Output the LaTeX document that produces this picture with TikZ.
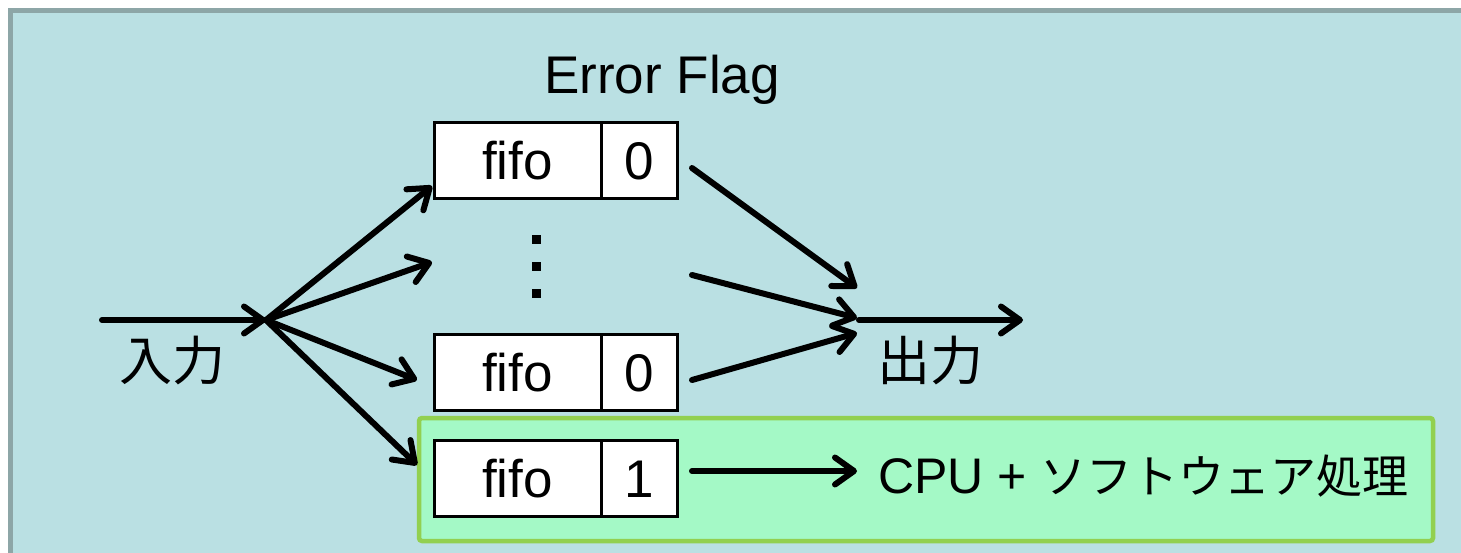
\documentclass[tikz,border=0pt]{standalone}
\usepackage{fontspec}
\setmainfont{Liberation Sans}
\newfontfamily\jp{Noto Sans CJK JP}
\usetikzlibrary{arrows.meta}

\definecolor{panelbg}{HTML}{BAE0E3}
\definecolor{panelrim}{HTML}{8DA6A7}
\definecolor{swfill}{HTML}{A4F9C6}
\definecolor{swrim}{HTML}{92D050}

\tikzset{
  every node/.style={font=\fontsize{53}{60}\selectfont, inner sep=0pt},
  flow/.style={line width=6pt, line cap=round,
    -{Straight Barb[length=19pt, width=27pt, round]}},
  cell/.style={draw, line width=3pt, fill=white, minimum height=76pt,
    text height=38pt, text depth=0pt},
  dot/.style={fill=black, minimum size=9pt},
  label/.style={anchor=base}
}

\begin{document}
\begin{tikzpicture}[x=1pt, y=1pt]
  \useasboundingbox (0,0) rectangle (1461,-552);
  \begin{scope}
    \clip (0,0) rectangle (1461,-552);
    % outer panel with its rim
    \fill[panelrim] (8,-8) rectangle (1480,-570);
    \fill[panelbg] (13,-13) rectangle (1480,-570);
    % software path area
    \draw[swrim, fill=swfill, line width=4.5pt, rounded corners=3pt]
      (419,-418) rectangle (1433,-541);
  \end{scope}

  \node[label] (flagtitle) at (662,-93) {Error Flag};

  % fifo buffers with their error flags
  \node[cell, minimum width=167pt] (fifoA) at (517.5,-160) {fifo};
  \node[cell, minimum width=76pt]  (flagA) at (639,-160) {0};
  \node[cell, minimum width=167pt] (fifoB) at (517.5,-372) {fifo};
  \node[cell, minimum width=76pt]  (flagB) at (639,-372) {0};
  \node[cell, minimum width=167pt] (fifoC) at (517.5,-478.5) {fifo};
  \node[cell, minimum width=76pt]  (flagC) at (639,-478.5) {1};

  % vertical ellipsis
  \node[dot] (d1) at (536,-239) {};
  \node[dot] (d2) at (536,-266) {};
  \node[dot] (d3) at (536,-293) {};

  % input side
  \coordinate (src) at (102,-320);
  \coordinate (split) at (266,-320);
  \coordinate (toA) at (432,-186);
  \coordinate (toMid) at (432,-262);
  \coordinate (toB) at (417,-380);
  \coordinate (toC) at (417,-465);
  \draw[flow] (src) -- (split);
  \draw[flow] (split) -- (toA);
  \draw[flow] (split) -- (toMid);
  \draw[flow] (split) -- (toB);
  \draw[flow] (split) -- (toC);
  \node[label] (inlabel) at (172,-380) {\jp 入力};

  % output side
  \coordinate (fromA) at (692,-168);
  \coordinate (fromMid) at (692,-275);
  \coordinate (fromB) at (692,-380);
  \coordinate (mergeA) at (857,-288);
  \coordinate (mergeMid) at (857,-318);
  \coordinate (mergeB) at (857,-333);
  \coordinate (merge) at (859,-320);
  \coordinate (sink) at (1023,-320);
  \draw[flow] (fromA) -- (mergeA);
  \draw[flow] (fromMid) -- (mergeMid);
  \draw[flow] (fromB) -- (mergeB);
  \draw[flow] (merge) -- (sink);
  \node[label] (outlabel) at (930,-380) {\jp 出力};

  % flagged buffer goes to software handling
  \coordinate (fromC) at (692,-471);
  \coordinate (toCpu) at (857,-471);
  \draw[flow] (fromC) -- (toCpu);
  \node[anchor=base west, font=\fontsize{50}{60}\selectfont] (cpu) at (878,-493)
    {CPU + {\jp\fontsize{46}{60}\selectfont ソフトウェア処理}};
\end{tikzpicture}
\end{document}
